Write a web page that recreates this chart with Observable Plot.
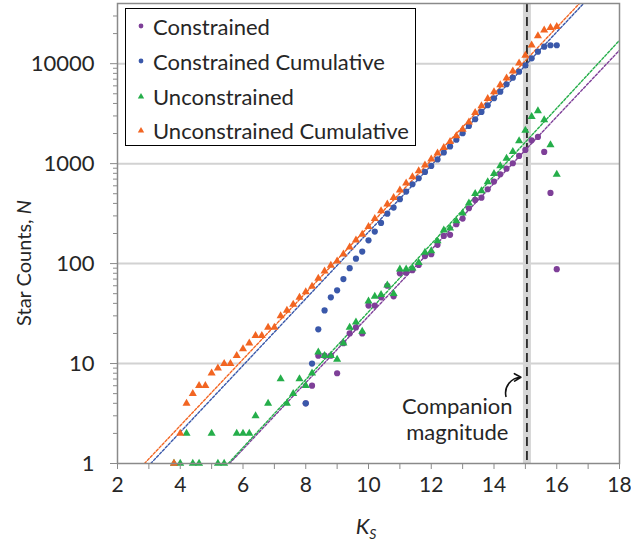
<!DOCTYPE html>
<html><head><meta charset="utf-8">
<script src="https://cdn.jsdelivr.net/npm/d3@7"></script>
<script src="https://cdn.jsdelivr.net/npm/@observablehq/plot@0.6"></script>
<style>
body{margin:0;background:#fff;font-family:Lato,"Open Sans",sans-serif;}
#wrap{position:relative;width:631px;height:546px;overflow:hidden;}
#legend{position:absolute;left:125px;top:8px;width:291px;height:138px;border:1.3px solid #000;background:#fff;box-sizing:border-box;}
.row{position:absolute;left:0;height:34px;display:flex;align-items:center;font-size:22px;color:#262626;white-space:nowrap;}
.row svg{margin-left:10px;margin-right:7px;}
#ylab{position:absolute;left:23px;top:263px;transform:translate(-50%,-50%) rotate(-90deg);font-size:20px;color:#262626;white-space:nowrap;}
#xlab{position:absolute;left:366px;top:527px;transform:translate(-50%,-50%);font-size:22px;color:#262626;white-space:nowrap;}
#xlab sub{font-size:14px;vertical-align:-5px;}
</style></head>
<body><div id="wrap"></div>
<script>
// ---- data ----
const seriesNames = ["Constrained", "Constrained Cumulative", "Unconstrained", "Unconstrained Cumulative"];
const seriesColors = ["#7E3F98", "#3A58AA", "#25AE4A", "#F26522"];

const magConstrained = [8.0,8.2,8.4,8.6,8.8,9.0,9.2,9.4,9.6,9.8,10.0,10.2,10.4,10.6,10.8,11.0,11.2,11.4,11.6,11.8,12.0,12.2,12.4,12.6,12.8,13.0,13.2,13.4,13.6,13.8,14.0,14.2,14.4,14.6,14.8,15.0,15.2,15.4,15.6,15.8,16.0];
const constrained = [4,6,12,12,12,8,16,20,23,20,38,38,46,60,47,80,81,86,97,119,124,154,189,194,248,282,358,433,457,554,661,783,891,1009,1194,1371,1714,1849,1309,509,88];
const constrainedCumulative = [4,10,22,34,46,54,70,90,112,132,171,209,255,316,363,441,525,622,714,826,949,1103,1292,1486,1734,2016,2383,2780,3289,3837,4508,5248,6223,7244,8318,9638,11320,13180,14790,15280,15280];

const magUnconstrained = [3.8,4.0,4.2,4.4,4.6,4.8,5.0,5.2,5.4,5.6,5.8,6.0,6.2,6.4,6.6,6.8,7.0,7.2,7.4,7.6,7.8,8.0,8.2,8.4,8.6,8.8,9.0,9.2,9.4,9.6,9.8,10.0,10.2,10.4,10.6,10.8,11.0,11.2,11.4,11.6,11.8,12.0,12.2,12.4,12.6,12.8,13.0,13.2,13.4,13.6,13.8,14.0,14.2,14.4,14.6,14.8,15.0,15.2,15.4,15.6,15.8,16.0];
const unconstrained = [1,1,2,1,1,null,2,1,1,null,2,2,2,3,null,4,null,7,4,5,7,6,8,13,12,12,11,16,23,26,21,42,47,49,61,50,88,88,90,102,129,134,169,216,226,267,319,402,501,533,656,794,948,1130,1318,1687,2155,2951,3365,2735,1538,782];
const unconstrainedCumulative = [1,2,4,5,6,6,8,9,10,10,12,14,16,19,19,23,23,30,34,39,46,52,59,71,84,96,106,124,146,172,196,234,282,336,393,457,542,637,736,845,964,1107,1271,1445,1660,1892,2200,2600,3236,3776,4467,5212,6124,7145,8400,10100,12130,15280,18920,21580,22910,23440];

// power-law fits: log10 N = slope * (K - K0)
const fitK0 = [5.57, 3.06, 5.53, 2.86];
const fitSlope = [0.3326, 0.3336, 0.3395, 0.332];

const companionMag = 15.05;
const xTicksMajor = [2,4,6,8,10,12,14,16,18];
const xTicksMinor = [3,5,7,9,11,13,15,17];
const yTicksMajor = [1,10,100,1000,10000];
const yTicksMinor = [2,3,4,5,6,7,8,9,20,30,40,50,60,70,80,90,200,300,400,500,600,700,800,900,2000,3000,4000,5000,6000,7000,8000,9000,20000,30000];
const yGrid = [10,100,1000,10000];
const annotationText = "Companion\nmagnitude";

// ---- tables built from the arrays ----
const C = magConstrained.map((K,i)=>({K, N: constrained[i]}));
const CC = magConstrained.map((K,i)=>({K, N: constrainedCumulative[i]}));
const U = magUnconstrained.map((K,i)=>({K, N: unconstrained[i]})).filter(d=>d.N!=null);
const UC = magUnconstrained.map((K,i)=>({K, N: unconstrainedCumulative[i]}));
const fits = seriesNames.flatMap((name,i)=>[fitK0[i], 18].map(K=>({name, color: seriesColors[i], K, N: Math.pow(10, fitSlope[i]*(K-fitK0[i]))})));

const dotR = 3.1, triR = 3;
const chart = Plot.plot({
  width: 631, height: 546,
  marginLeft: 117, marginRight: 12, marginTop: 3, marginBottom: 83,
  style: {fontFamily: "Lato, 'Open Sans', sans-serif", fontSize: "21px", background: "#fff", color: "#404040"},
  x: {domain: [2, 18]},
  y: {type: "log", domain: [1, 40000]},
  marks: [
    Plot.ruleY(yGrid, {stroke: "#d2d2d2", strokeWidth: 2}),
    Plot.ruleX([companionMag], {stroke: "#d6d6d6", strokeWidth: 8}),
    Plot.ruleX([companionMag], {stroke: "#111", strokeWidth: 1.6, strokeDasharray: "9,5"}),
    Plot.line(fits, {x: "K", y: "N", z: "name", stroke: "color", strokeWidth: 1.4, strokeDasharray: "2.5,1.8", clip: true}),
    Plot.dot(C, {x: "K", y: "N", r: dotR, fill: seriesColors[0], symbol: "circle"}),
    Plot.dot(CC, {x: "K", y: "N", r: dotR, fill: seriesColors[1], symbol: "circle"}),
    Plot.dot(U, {x: "K", y: "N", r: triR, fill: seriesColors[2], symbol: "triangle"}),
    Plot.dot(UC, {x: "K", y: "N", r: triR, fill: seriesColors[3], symbol: "triangle"}),
    Plot.axisY({ticks: yTicksMajor, tickFormat: d3.format("d"), tickSize: 7, tickPadding: 16, label: null, stroke: "#8a8a8a", fill: "#262626", fontSize: 22}),
    Plot.axisY({ticks: yTicksMinor, tickFormat: () => "", tickSize: 4, label: null, stroke: "#8a8a8a"}),
    Plot.axisX({ticks: xTicksMajor, tickSize: 6, tickPadding: 8, label: null, stroke: "#8a8a8a", fill: "#262626", fontSize: 21}),
    Plot.axisX({ticks: xTicksMinor, tickFormat: () => "", tickSize: 6, label: null, stroke: "#8a8a8a"}),
    Plot.frame({stroke: "#8a8a8a", strokeWidth: 1.5}),
    Plot.text([annotationText], {x: 12.83, y: 2.8, text: d => d, fontSize: 22, lineHeight: 1.2, fill: "#262626"}),
    Plot.arrow([0], {x1: 14.38, y1: 4.7, x2: 14.86, y2: 7.3, bend: 50, stroke: "#111", strokeWidth: 1.6, headLength: 7})
  ]
});

const wrap = document.getElementById("wrap");
wrap.appendChild(chart);

// legend
const legend = document.createElement("div");
legend.id = "legend";
const tops = [0, 35, 70, 104];
seriesNames.forEach((name, i) => {
  const row = document.createElement("div");
  row.className = "row";
  row.style.top = tops[i] + "px";
  const shape = i < 2
    ? `<circle cx="5" cy="5" r="2.4" fill="${seriesColors[i]}"/>`
    : `<path d="M5,2 L8.2,7.6 L1.8,7.6 Z" fill="${seriesColors[i]}"/>`;
  row.innerHTML = `<svg width="10" height="10">${shape}</svg><span>${name}</span>`;
  legend.appendChild(row);
});
wrap.appendChild(legend);

const ylab = document.createElement("div");
ylab.id = "ylab";
ylab.innerHTML = "Star Counts, <i>N</i>";
wrap.appendChild(ylab);
const xlab = document.createElement("div");
xlab.id = "xlab";
xlab.innerHTML = "<i>K</i><sub><i>S</i></sub>";
wrap.appendChild(xlab);
</script></body></html>
